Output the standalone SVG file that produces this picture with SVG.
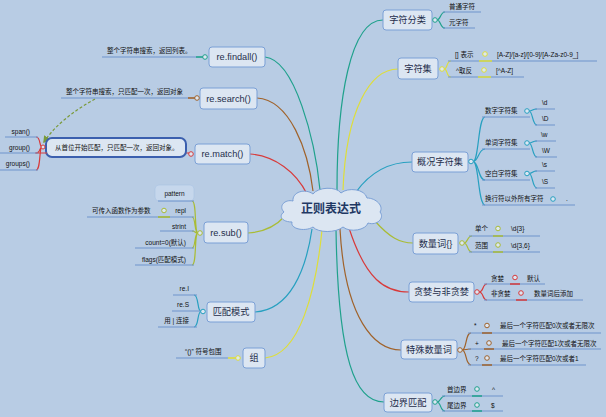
<svg xmlns="http://www.w3.org/2000/svg" width="606" height="417" viewBox="0 0 606 417">
<defs>
<style>
.nb{fill:#dce6f2;stroke:#7ba0d6;stroke-width:1}
.nl{font-family:"Liberation Sans","Noto Sans CJK SC",sans-serif;font-size:9.2px;fill:#1f2d4a;text-anchor:middle}
.ct{font-family:"Liberation Sans","Noto Sans CJK SC",sans-serif;font-size:6.5px;fill:#111}
.ce{text-anchor:end}
.ul{stroke:#6f94cc;stroke-width:1;fill:none}
.c{fill:none;stroke-width:1.2}
.k{fill:#dce6f2;stroke-width:1}
.teal{stroke:#1fa18c}.yel{stroke:#dede3a}.tb{stroke:#27a0c0}.olv{stroke:#a9bc35}.red{stroke:#d83a3a}.brn{stroke:#a0622a}
</style>
<marker id="arr" viewBox="0 0 10 10" refX="8" refY="5" markerWidth="6" markerHeight="6" orient="auto-start-reverse">
<path d="M0,0 L10,5 L0,10 z" fill="#7a9a3a"/>
</marker>
</defs>
<rect width="606" height="417" fill="#b8cce4"/>

<g id="connectors">
<path class="c teal" d="M337,190 C337,100 350,20 383,20"/>
<path class="c yel" d="M343,190 C346,110 370,69 398,69"/>
<path class="c tb" d="M356,192 C372,170 392,162 412,162"/>
<path class="c olv" d="M374,220 C390,238 400,243 413,243"/>
<path class="c red" d="M349,228 C366,280 385,292 409,292"/>
<path class="c brn" d="M340,229 C345,320 375,350 401,350"/>
<path class="c teal" d="M336,229 C338,360 355,402 384,402"/>
<path class="c teal" d="M265,57 C295,60 315,140 320,190"/>
<path class="c brn" d="M257,98 C290,100 308,150 313,191"/>
<path class="c red" d="M250,154 C275,156 296,172 307,194"/>
<path class="c olv" d="M248,233 C265,232 276,226 285,216"/>
<path class="c tb" d="M255,312 C290,310 306,270 312,229"/>
<path class="c yel" d="M265,358 C300,355 316,290 322,230"/>
<path d="M95,99 C75,110 55,125 44,142" fill="none" stroke="#7a9a3a" stroke-width="1.2" stroke-dasharray="3,2" marker-end="url(#arr)"/>
</g>

<g id="center">
<path class="nb" d="M284,212 C278,206 285,199 293,201 C292,192 305,188 313,194 C318,187 336,186 341,193 C348,187 365,189 367,198 C376,198 384,206 380,212 C385,218 377,226 368,223 C366,230 350,233 343,227 C336,233 318,233 313,227 C305,232 290,229 292,222 C282,222 278,216 284,212 Z"/>
<text x="331" y="212.5" style="font-family:'Liberation Sans','Noto Sans CJK SC',sans-serif;font-size:12px;font-weight:bold;fill:#1f3864;text-anchor:middle">正则表达式</text>
</g>

<g id="n-zifufenlei">
<rect class="nb" x="383" y="10" width="49" height="20" rx="3"/>
<text class="nl" x="407.5" y="23.3">字符分类</text>
<path class="c teal" d="M437,20 C441,20 440,12 445,12 M437,20 C441,20 440,28 445,28"/>
<circle class="k teal" cx="435" cy="20" r="2.3"/>
<path class="ul" d="M443,12 H481 M443,28 H475"/>
<text class="ct" x="449" y="8.5">普通字符</text>
<text class="ct" x="449" y="24.5">元字符</text>
</g>

<g id="n-zifuji">
<rect class="nb" x="398" y="58" width="40" height="21" rx="3"/>
<text class="nl" x="418" y="72.3">字符集</text>
<path class="c yel" d="M444,69 C448,69 446,61 451,61 M444,69 C448,69 446,77 451,77"/>
<circle class="k yel" cx="442" cy="69" r="2.3"/>
<path class="ul" d="M448,61 H597 M448,77 H524"/>
<path d="M479,61 H492 M478,77 H491" stroke="#dede3a" stroke-width="1.6"/>
<circle class="k yel" cx="485" cy="54" r="2.3"/>
<circle class="k yel" cx="484" cy="70" r="2.3"/>
<text class="ct" x="455" y="56.5">[] 表示</text>
<text class="ct" x="497" y="56.5">[A-Z]/[a-z]/[0-9]/[A-Za-z0-9_]</text>
<text class="ct" x="456" y="72.5">^取反</text>
<text class="ct" x="496" y="72.5">[^A-Z]</text>
</g>

<g id="n-gaikuang">
<rect class="nb" x="412" y="152" width="56" height="20" rx="3"/>
<text class="nl" x="440" y="165.3">概况字符集</text>
<path class="c tb" d="M473,161.5 C479,161.5 478,117 485,117 M473,161.5 C479,161.5 478,149 485,149 M473,161.5 C479,161.5 478,180 485,180 M473,161.5 C479,161.5 478,205 485,205"/>
<circle class="k tb" cx="471" cy="161.5" r="2.3"/>
<path class="ul" d="M482,117 H530 M482,149 H530 M482,180 H530 M482,205 H575"/>
<text class="ct" x="485" y="113">数字字符集</text>
<text class="ct" x="485" y="145">单词字符集</text>
<text class="ct" x="485" y="175.5">空白字符集</text>
<text class="ct" x="485" y="201.3">换行符以外所有字符</text>
<path class="c tb" d="M529,111 C533,111 532,109 537,109 M529,111 C533,111 532,125 537,125 M529,143 C533,143 532,141 537,141 M529,143 C533,143 532,157 537,157 M529,173.5 C533,173.5 532,171 537,171 M529,173.5 C533,173.5 532,188 537,188"/>
<circle class="k tb" cx="527" cy="111" r="2.3"/>
<circle class="k tb" cx="527" cy="143" r="2.3"/>
<circle class="k tb" cx="527" cy="173.5" r="2.3"/>
<circle class="k tb" cx="553" cy="199" r="2.3"/>
<path class="ul" d="M535,109 H555 M535,125 H555 M535,141 H556 M535,157 H557 M535,171 H555 M535,188 H555"/>
<text class="ct" x="542" y="105">\d</text>
<text class="ct" x="542" y="120.5">\D</text>
<text class="ct" x="541" y="136.5">\w</text>
<text class="ct" x="542" y="153">\W</text>
<text class="ct" x="542" y="167">\s</text>
<text class="ct" x="542" y="184">\S</text>
<text class="ct" x="566" y="201.3">.</text>
</g>

<g id="n-shuliangci">
<rect class="nb" x="413" y="233" width="45" height="21" rx="3"/>
<text class="nl" x="435.5" y="246.8">数量词{}</text>
<path class="c olv" d="M464,243 C468,243 467,236 472,236 M464,243 C468,243 467,252 472,252"/>
<circle class="k olv" cx="462" cy="243" r="2.3"/>
<path class="ul" d="M469,236 H540 M469,252 H540"/>
<path d="M493,236 H503 M493,252 H503" stroke="#a9bc35" stroke-width="1.6"/>
<circle class="k olv" cx="498" cy="228.5" r="2.3"/>
<circle class="k olv" cx="498" cy="245" r="2.3"/>
<text class="ct" x="475" y="231.3">单个</text>
<text class="ct" x="511" y="231.3">\d{3}</text>
<text class="ct" x="475" y="247.5">范围</text>
<text class="ct" x="511" y="247.5">\d{3,6}</text>
</g>

<g id="n-tanlan">
<rect class="nb" x="409" y="282" width="65" height="20" rx="3"/>
<text class="nl" x="441.5" y="295.3">贪婪与非贪婪</text>
<path class="c red" d="M479,292 C484,292 482,284 487,284 M479,292 C484,292 482,300 487,300"/>
<circle class="k red" cx="477" cy="292" r="2.3"/>
<path class="ul" d="M484,284 H545 M484,300 H583"/>
<path d="M510,284 H520 M516,300 H527" stroke="#d83a3a" stroke-width="1.6"/>
<circle class="k red" cx="515" cy="277.5" r="2.3"/>
<circle class="k red" cx="521" cy="293" r="2.3"/>
<text class="ct" x="491" y="280.5">贪婪</text>
<text class="ct" x="527" y="280.5">默认</text>
<text class="ct" x="491" y="295.8">非贪婪</text>
<text class="ct" x="534" y="295.8">数量词后添加</text>
</g>

<g id="n-teshu">
<rect class="nb" x="401" y="340" width="56" height="19" rx="3"/>
<text class="nl" x="429" y="352.8">特殊数量词</text>
<path class="c brn" d="M462,350 C467,350 465,333 471,333 M462,350 C467,350 465,349 471,349 M462,350 C467,350 465,365 471,365"/>
<circle class="k brn" cx="460" cy="350" r="2.3"/>
<path class="ul" d="M468,333 H601 M468,349 H601 M468,365 H586"/>
<path d="M482,333 H492 M484,349 H494 M482,365 H492" stroke="#a0622a" stroke-width="1.6"/>
<circle class="k brn" cx="487" cy="325.5" r="2.3"/>
<circle class="k brn" cx="489" cy="343" r="2.3"/>
<circle class="k brn" cx="487" cy="358" r="2.3"/>
<text class="ct" x="474" y="328">*</text>
<text class="ct" x="500" y="327.5">最后一个字符匹配0次或者无限次</text>
<text class="ct" x="475" y="345.5">+</text>
<text class="ct" x="502" y="345.5">最后一个字符匹配1次或者无限次</text>
<text class="ct" x="475" y="360.5">?</text>
<text class="ct" x="500" y="360.5">最后一个字符匹配0次或者1</text>
</g>

<g id="n-bianjie">
<rect class="nb" x="384" y="393" width="48" height="19" rx="3"/>
<text class="nl" x="408" y="405.8">边界匹配</text>
<path class="c teal" d="M437,402 C441,402 440,396 445,396 M437,402 C441,402 440,411 445,411"/>
<circle class="k teal" cx="435" cy="402" r="2.3"/>
<path class="ul" d="M442,396 H503 M442,411 H503"/>
<path d="M472,396 H482 M472,411 H482" stroke="#1fa18c" stroke-width="1.6"/>
<circle class="k teal" cx="477" cy="389" r="2.3"/>
<circle class="k teal" cx="477" cy="405" r="2.3"/>
<text class="ct" x="447" y="391.5">首边界</text>
<text class="ct" x="492" y="391.5">^</text>
<text class="ct" x="447" y="407.5">尾边界</text>
<text class="ct" x="491" y="407.5">$</text>
</g>

<g id="n-findall">
<rect class="nb" x="209" y="47" width="56" height="20" rx="3"/>
<text class="nl" x="237" y="60.3">re.findall()</text>
<path class="ul" d="M102,57 H196"/>
<path d="M196,57 H203" stroke="#1fa18c" stroke-width="1.6"/>
<circle class="k teal" cx="205" cy="57" r="2.3"/>
<text class="ct" x="107" y="52.5">整个字符串搜索，返回列表。</text>
</g>

<g id="n-search">
<rect class="nb" x="200" y="88" width="57" height="21" rx="3"/>
<text class="nl" x="228.5" y="101.8">re.search()</text>
<path class="ul" d="M61,98 H188"/>
<path d="M188,98 H195" stroke="#a0622a" stroke-width="1.6"/>
<circle class="k brn" cx="197" cy="98" r="2.3"/>
<text class="ct" x="66" y="93.5">整个字符串搜索，只匹配一次，返回对象</text>
</g>

<g id="n-match">
<rect class="nb" x="195" y="144" width="55" height="20" rx="3"/>
<text class="nl" x="222.5" y="157.3">re.match()</text>
<circle class="k red" cx="191" cy="154" r="2.3"/>
<path d="M186,153 H189" stroke="#d83a3a" stroke-width="1"/>
<rect x="46" y="138" width="140" height="19" rx="6" fill="#dce6f2" stroke="#3b5fae" stroke-width="2"/>
<text class="ct" x="55" y="150">从首位开始匹配，只匹配一次，返回对象。</text>
<path class="c red" d="M42,147 C39,147 41,137 36,137 M42,147 C39,147 41,153 36,153 M42,147 C39,147 41,170 36,170"/>
<path d="M35,153 H47" stroke="#d83a3a" stroke-width="1"/>
<circle class="k red" cx="43" cy="147" r="2"/>
<path class="ul" d="M5,137 H38 M0,153 H38 M0,170 H38"/>
<text class="ct ce" x="30" y="133.5">span()</text>
<text class="ct ce" x="30" y="150">group()</text>
<text class="ct ce" x="30" y="165.5">groups()</text>
</g>

<g id="n-sub">
<rect class="nb" x="204" y="222" width="44" height="21" rx="3"/>
<text class="nl" x="226" y="235.8">re.sub()</text>
<path class="c olv" d="M198,233 C194,233 197,201 192,201 M198,233 C194,233 196,217 192,217 M198,233 C194,233 196,231 192,231 M198,233 C194,233 196,248 192,248 M198,233 C194,233 197,265 192,265"/>
<circle class="k olv" cx="200" cy="233" r="2.3"/>
<rect x="155" y="185" width="39" height="16" rx="4" fill="#c6d7ec" stroke="#a9c2e2" stroke-width="0.6"/>
<path class="ul" d="M158,201 H194 M87,217 H194 M160,231 H194 M135,248 H194 M135,265 H194"/>
<path d="M158,217 H170" stroke="#a9bc35" stroke-width="1.6"/>
<circle class="k olv" cx="164" cy="210.5" r="2.3"/>
<text class="ct" x="174.5" y="195.5" style="text-anchor:middle">pattern</text>
<text class="ct ce" x="186" y="213">repl</text>
<text class="ct" x="92" y="213">可传入函数作为参数</text>
<text class="ct ce" x="186" y="228.5">strint</text>
<text class="ct ce" x="186" y="244.5">count=0(默认)</text>
<text class="ct ce" x="186" y="261.5">flags(匹配模式)</text>
</g>

<g id="n-moshi">
<rect class="nb" x="207" y="302" width="48" height="20" rx="3"/>
<text class="nl" x="231" y="315.3">匹配模式</text>
<path class="c tb" d="M201,311.5 C197,311.5 199,295 194,295 M201,311.5 C197,311.5 199,327 194,327"/>
<circle class="k tb" cx="203" cy="311.5" r="2.3"/>
<path class="ul" d="M173,295 H197 M172,311 H200 M158,327 H197"/>
<text class="ct ce" x="189" y="290.5">re.I</text>
<text class="ct ce" x="189" y="306.5">re.S</text>
<text class="ct ce" x="189" y="323">用 | 连接</text>
</g>

<g id="n-zu">
<rect class="nb" x="243" y="348" width="22" height="20" rx="3"/>
<text class="nl" x="254" y="361.3">组</text>
<path class="ul" d="M176,358 H228"/>
<path d="M228,358 H236" stroke="#dede3a" stroke-width="1.6"/>
<circle class="k yel" cx="238" cy="358" r="2.3"/>
<text class="ct" x="185" y="353.5">“()” 符号包围</text>
</g>
</svg>
